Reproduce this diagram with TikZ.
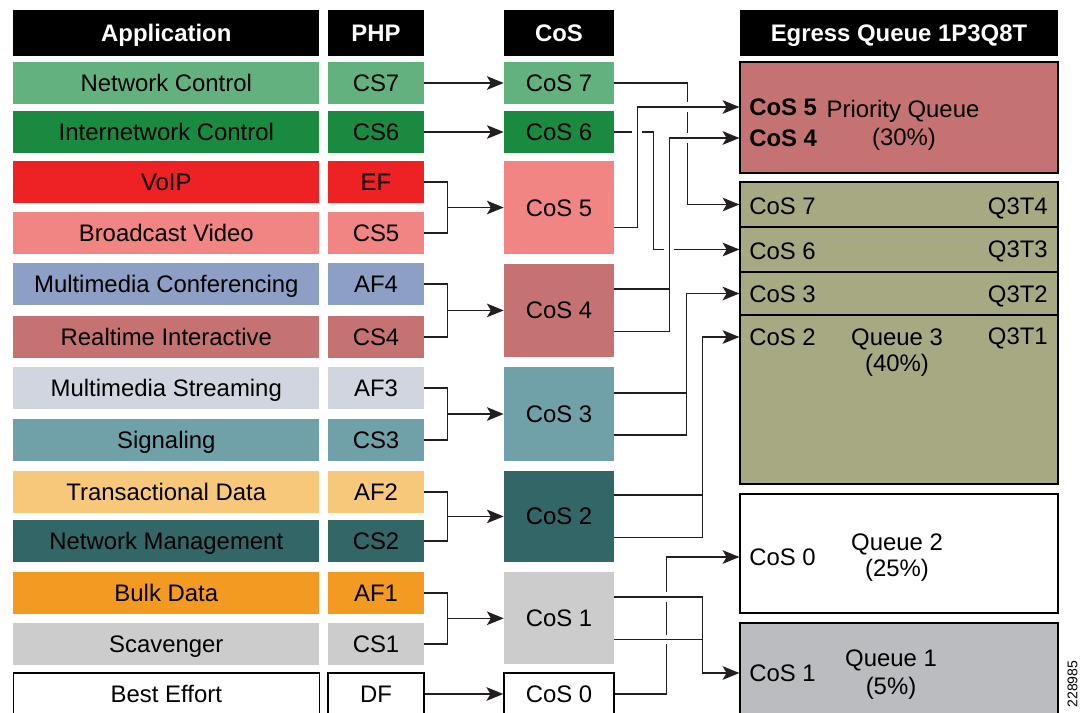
\documentclass[tikz,border=0pt]{standalone}
\usepackage{fontspec}
\setmainfont{Liberation Sans}
\usepackage{xcolor}
\usepackage{tikz}
\usetikzlibrary{shapes,arrows.meta,positioning,calc}

\definecolor{ncgreen}{RGB}{99,177,127}
\definecolor{icgreen}{RGB}{26,138,65}
\definecolor{voipred}{RGB}{238,33,36}
\definecolor{bvpink}{RGB}{240,133,131}
\definecolor{mmcblue}{RGB}{142,159,197}
\definecolor{rtirose}{RGB}{196,115,114}
\definecolor{mmsgray}{RGB}{209,213,224}
\definecolor{sigteal}{RGB}{112,160,168}
\definecolor{txdsand}{RGB}{247,200,122}
\definecolor{nmteal}{RGB}{51,102,102}
\definecolor{bulkorange}{RGB}{243,154,34}
\definecolor{scavgray}{RGB}{204,204,204}
\definecolor{q3olive}{RGB}{166,169,130}
\definecolor{q1gray}{RGB}{187,188,192}
\definecolor{wirec}{RGB}{35,31,32}

\newcommand{\diagfont}{\fontsize{17}{20}\selectfont}
\newcommand{\idfont}{\fontsize{10}{12}\selectfont}

\tikzset{
  box/.style={rectangle, inner sep=0pt, minimum height=1.05cm, text height=12.2pt, text depth=0pt, font=\diagfont},
  head/.style={box, fill=black, text=white, minimum height=1.14cm, font=\diagfont\bfseries},
  app/.style={box, minimum width=7.65cm},
  php/.style={box, minimum width=2.4cm},
  cosbox/.style={box, minimum width=2.75cm},
  queue/.style={rectangle, draw=black, line width=0.8pt, inner sep=0pt, minimum width=7.95cm},
  lbl/.style={inner sep=0pt, text height=12.2pt, text depth=0pt, font=\diagfont},
  wire/.style={draw=wirec, line width=1.05pt},
  arr/.style={wire, -{Stealth[length=0.42cm, width=0.34cm, inset=0.1cm]}},
  halo/.style={preaction={draw=white, line width=7pt, -}}
}

\begin{document}
\begin{tikzpicture}[x=0.025cm, y=-0.025cm]
  \useasboundingbox (0,0) rectangle (1080,712);
  \clip (0,0) rectangle (1080,712);

  % Column headers
  \node[head, minimum width=7.65cm] (happ) at (166.3,32.9) {Application};
  \node[head, minimum width=2.4cm] (hphp) at (376,32.9) {PHP};
  \node[head, minimum width=2.75cm] (hcos) at (559,32.9) {CoS};
  \node[head, minimum width=7.95cm] (hegr) at (899,32.9) {Egress Queue 1P3Q8T};

  % Applications
  \node[app, fill=ncgreen] (netctl) at (166.3,83) {Network Control};
  \node[app, fill=icgreen] (inetctl) at (166.3,132) {Internetwork Control};
  \node[app, fill=voipred] (voip) at (166.3,182) {VoIP};
  \node[app, fill=bvpink] (bcast) at (166.3,233) {Broadcast Video};
  \node[app, fill=mmcblue] (mmconf) at (166.3,284) {Multimedia Conferencing};
  \node[app, fill=rtirose] (rtint) at (166.3,337) {Realtime Interactive};
  \node[app, fill=mmsgray] (mmstream) at (166.3,388) {Multimedia Streaming};
  \node[app, fill=sigteal] (signal) at (166.3,440) {Signaling};
  \node[app, fill=txdsand] (txdata) at (166.3,492) {Transactional Data};
  \node[app, fill=nmteal] (netmgmt) at (166.3,541) {Network Management};
  \node[app, fill=bulkorange] (bulk) at (166.3,593) {Bulk Data};
  \node[app, fill=scavgray] (scav) at (166.3,644) {Scavenger};
  \node[app, draw=black, line width=1pt] (besteff) at (166.3,694) {Best Effort};

  % PHP markings
  \node[php, fill=ncgreen] (cs7) at (376,83) {CS7};
  \node[php, fill=icgreen] (cs6) at (376,132) {CS6};
  \node[php, fill=voipred] (ef) at (376,182) {EF};
  \node[php, fill=bvpink] (cs5) at (376,233) {CS5};
  \node[php, fill=mmcblue] (af4) at (376,284) {AF4};
  \node[php, fill=rtirose] (cs4) at (376,337) {CS4};
  \node[php, fill=mmsgray] (af3) at (376,388) {AF3};
  \node[php, fill=sigteal] (cs3) at (376,440) {CS3};
  \node[php, fill=txdsand] (af2) at (376,492) {AF2};
  \node[php, fill=nmteal] (cs2) at (376,541) {CS2};
  \node[php, fill=bulkorange] (af1) at (376,593) {AF1};
  \node[php, fill=scavgray] (cs1) at (376,644) {CS1};
  \node[php, draw=black, line width=1pt] (df) at (376,694) {DF};

  % CoS values
  \node[cosbox, fill=ncgreen] (cos7) at (559,83) {CoS 7};
  \node[cosbox, fill=icgreen] (cos6) at (559,132) {CoS 6};
  \node[cosbox, fill=bvpink, minimum height=2.325cm] (cos5) at (559,207.5) {CoS 5};
  \node[cosbox, fill=rtirose, minimum height=2.33cm] (cos4) at (559,310.4) {CoS 4};
  \node[cosbox, fill=sigteal, minimum height=2.335cm] (cos3) at (559,414) {CoS 3};
  \node[cosbox, fill=nmteal, minimum height=2.27cm] (cos2) at (559,516.4) {CoS 2};
  \node[cosbox, fill=scavgray, minimum height=2.3cm] (cos1) at (559,618.3) {CoS 1};
  \node[cosbox, draw=black, line width=1pt] (cos0) at (559,694) {CoS 0};

  % Egress queues
  \node[queue, fill=rtirose, minimum height=2.775cm] (pq) at (899,117.5) {};
  \node[queue, fill=q3olive, minimum height=1.125cm] (t4) at (899,204.5) {};
  \node[queue, fill=q3olive, minimum height=1.125cm] (t3) at (899,249.5) {};
  \node[queue, fill=q3olive, minimum height=1.075cm] (t2) at (899,293.5) {};
  \node[queue, fill=q3olive, minimum height=4.225cm] (t1) at (899,399.5) {};
  \node[queue, fill=white, minimum height=2.975cm] (q2) at (899,553.5) {};
  \node[queue, fill=q1gray, minimum height=3cm] (q1) at (899,683) {};

  \node[lbl, font=\diagfont\bfseries, anchor=west] (pq5) at (749,107) {CoS 5};
  \node[lbl, font=\diagfont\bfseries, anchor=west] (pq4) at (749,138) {CoS 4};
  \node[lbl] (pqname) at (903,109) {Priority Queue};
  \node[lbl] (pqshare) at (904,137) {(30\%)};
  \node[lbl, anchor=west] (c7) at (749,206) {CoS 7};
  \node[lbl, anchor=east] (q3t4) at (1048,206) {Q3T4};
  \node[lbl, anchor=west] (c6) at (749,251) {CoS 6};
  \node[lbl, anchor=east] (q3t3) at (1048,249) {Q3T3};
  \node[lbl, anchor=west] (c3) at (749,294) {CoS 3};
  \node[lbl, anchor=east] (q3t2) at (1048,294) {Q3T2};
  \node[lbl, anchor=west] (c2) at (749,337) {CoS 2};
  \node[lbl] (q3name) at (897,337) {Queue 3};
  \node[lbl] (q3share) at (897,363) {(40\%)};
  \node[lbl, anchor=east] (q3t1) at (1048,336) {Q3T1};
  \node[lbl, anchor=west] (c0) at (749,557) {CoS 0};
  \node[lbl] (q2name) at (897,542) {Queue 2};
  \node[lbl] (q2share) at (897,568) {(25\%)};
  \node[lbl, anchor=west] (c1) at (749,673) {CoS 1};
  \node[lbl] (q1name) at (891,658) {Queue 1};
  \node[lbl] (q1share) at (891,686) {(5\%)};

  \node[inner sep=0pt, rotate=90, font=\idfont] (figid) at (1072.5,684) {228985};

  % PHP to CoS
  \coordinate (j5) at (447.5,0 |- cos5);
  \coordinate (j4) at (447.5,0 |- cos4);
  \coordinate (j3) at (447.5,0 |- cos3);
  \coordinate (j2) at (447.5,0 |- cos2);
  \coordinate (j1) at (447.5,0 |- cos1);
  \draw[arr] (cs7) -- (cos7);
  \draw[arr] (cs6) -- (cos6);
  \draw[wire] (ef) -| (j5) |- (cs5);
  \draw[arr] (j5) -- (cos5);
  \draw[wire] (af4) -| (j4) |- (cs4);
  \draw[arr] (j4) -- (cos4);
  \draw[wire] (af3) -| (j3) |- (cs3);
  \draw[arr] (j3) -- (cos3);
  \draw[wire] (af2) -| (j2) |- (cs2);
  \draw[arr] (j2) -- (cos2);
  \draw[wire] (af1) -| (j1) |- (cs1);
  \draw[arr] (j1) -- (cos1);
  \draw[arr] (df) -- (cos0);

  % CoS to egress queues
  \draw[arr] (cos7.east) -- ++(73,0) |- (t4);
  \draw[arr] (cos6.east) -- ++(39,0) |- (t3);
  \draw[arr] ([yshift=0.53cm]cos3.east) -- ++(72,0)
             ([yshift=-0.53cm]cos3.east) -- ++(72,0) |- (t2);
  \draw[arr] ([yshift=0.53cm]cos2.east) -- ++(88,0)
             ([yshift=-0.53cm]cos2.east) -- ++(88,0) |- (t1.west |- c2);
  \draw[arr] (cos0.east) -- ++(52,0) |- (q2.west |- c0);
  \draw[arr,halo] ([yshift=-0.5cm]cos5.east) -- ++(23,0) |- (pq.west |- pq5);
  \draw[arr,halo] ([yshift=0.53cm]cos4.east) -- ++(55,0)
                  ([yshift=-0.53cm]cos4.east) -- ++(55,0) |- (pq.west |- pq4);
  \draw[arr,halo] ([yshift=-0.53cm]cos1.east) -- ++(88,0)
                  ([yshift=0.53cm]cos1.east) -- ++(88,0) |- (q1.west |- c1);
\end{tikzpicture}
\end{document}
